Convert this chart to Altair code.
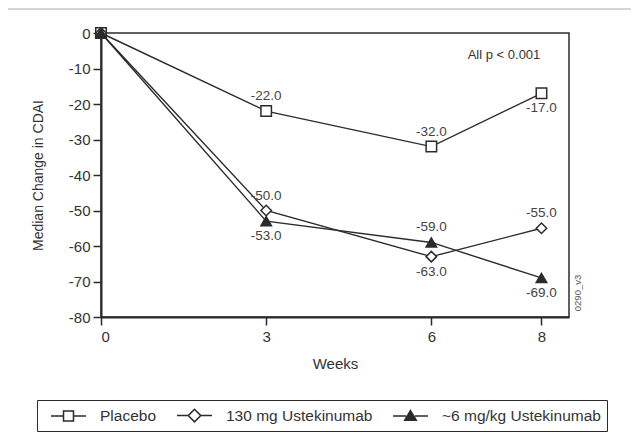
import altair as alt
import pandas as pd

weeks = [0, 3, 6, 8]
groups = ["Placebo", "130 mg Ustekinumab", "~6 mg/kg Ustekinumab"]
placebo = [0.0, -22.0, -32.0, -17.0]
uste_130 = [0.0, -50.0, -63.0, -55.0]
uste_6 = [0.0, -53.0, -59.0, -69.0]
label_side_placebo = ["none", "above", "above", "below"]
label_side_130 = ["none", "above", "below", "above"]
label_side_6 = ["none", "below", "above", "below"]

rows = []
for g, vals, sides in zip(groups, [placebo, uste_130, uste_6],
                          [label_side_placebo, label_side_130, label_side_6]):
    for w, v, s in zip(weeks, vals, sides):
        rows.append({"week": w, "value": v, "group": g, "side": s, "label": f"{v:.1f}"})
df = pd.DataFrame(rows)

FONT = "Liberation Sans"
INK = "#2b2b2b"
HYPHEN = "replace(datum.label, '\u2212', '-')"

x = alt.X("week:Q", title="Weeks",
          scale=alt.Scale(domain=[0, 8.5], nice=False),
          axis=alt.Axis(values=[0, 3, 6, 8], grid=False, labelFontSize=15,
                        titleFontSize=15, titlePadding=12, labelPadding=4,
                        tickSize=8, labelColor="#333", titleColor="#333",
                        titleFontWeight="normal"))
y = alt.Y("value:Q", title="Median Change in CDAI",
          scale=alt.Scale(domain=[-80, 0], nice=False),
          axis=alt.Axis(values=list(range(-80, 1, 10)), grid=False, labelFontSize=15,
                        titleFontSize=14, titlePadding=23, labelPadding=3,
                        tickSize=8, labelColor="#333", titleColor="#333",
                        titleFontWeight="normal", labelExpr=HYPHEN))

base = alt.Chart(df)

lines = base.mark_line(color=INK, strokeWidth=1.4).encode(x=x, y=y, detail="group:N")

points = base.mark_point(filled=True, stroke=INK, strokeWidth=1.5, size=110, opacity=1).encode(
    x=x, y=y,
    shape=alt.Shape("group:N", scale=alt.Scale(domain=groups, range=["square", "diamond", "triangle-up"]), legend=None),
    fill=alt.Fill("group:N", scale=alt.Scale(domain=groups, range=["white", "white", INK]), legend=None),
)

above = base.transform_filter("datum.side == 'above'").mark_text(
    dy=-15, fontSize=13.5, font=FONT, color="#444").encode(x=x, y=y, text="label:N")
below = base.transform_filter("datum.side == 'below'").mark_text(
    dy=15, fontSize=13.5, font=FONT, color="#444").encode(x=x, y=y, text="label:N")

# legend glyphs: "line - marker - line" drawn as stroke-only paths
tri_top, tri_bot, tri_half = -0.62, 0.5, 0.66
hatch = ""
yy = tri_top + 0.1
while yy <= tri_bot + 1e-9:
    hw = tri_half * (yy - tri_top) / (tri_bot - tri_top)
    hatch += f"M{-hw:.3f},{yy:.3f}H{hw:.3f}"
    yy += 0.12
legend_paths = [
    "M-2,0H-0.57M0.57,0H2M-0.57,-0.57H0.57V0.57H-0.57Z",
    "M-2,0H-0.72M0.72,0H2M-0.72,0L0,-0.72L0.72,0L0,0.72Z",
    f"M-2,0H-0.5M0.5,0H2M0,{tri_top}L{tri_half},{tri_bot}L{-tri_half},{tri_bot}Z" + hatch,
]
legend = alt.Legend(title=None, orient="none", legendX=-64, legendY=367,
                    direction="horizontal", strokeColor=INK, padding=6,
                    symbolSize=306, symbolStrokeColor=INK, symbolStrokeWidth=1.5,
                    symbolOpacity=1, symbolFillColor="white",
                    symbolOffset=16, labelOffset=22, columnPadding=12,
                    labelFontSize=15.5, labelFont=FONT, labelColor="#333",
                    labelLimit=400)
legend_layer = base.transform_filter("datum.week < 0").mark_point(
    filled=False, color=INK, stroke=INK, strokeWidth=1.5, opacity=1).encode(
    x=x, y=y,
    shape=alt.Shape("group:N", scale=alt.Scale(domain=groups, range=legend_paths), legend=legend),
)

note_df = pd.DataFrame({"t": ["All p < 0.001"]})
note = alt.Chart(note_df).mark_text(fontSize=13, font=FONT, color="#333").encode(
    x=alt.value(403), y=alt.value(22), text="t:N")
code_df = pd.DataFrame({"t": ["0290_v3"]})
code = alt.Chart(code_df).mark_text(fontSize=9.5, font=FONT, color="#555", angle=270).encode(
    x=alt.value(477), y=alt.value(260), text="t:N")
rule_df = pd.DataFrame({"a": [0]})
top_rule = alt.Chart(rule_df).mark_rule(color="#aaaaaa", strokeWidth=1).encode(
    x=alt.value(-93), x2=alt.value(530), y=alt.value(-24))

chart = alt.layer(lines, points, above, below, legend_layer, note, code, top_rule).resolve_scale(
    shape="independent", fill="independent"
).properties(
    width=468, height=284,
    autosize=alt.AutoSizeParams(type="none"),
    padding={"left": 93, "top": 25, "right": 62, "bottom": 121},
    background="white",
).configure_view(stroke=INK, strokeWidth=1.5).configure_axis(
    domainColor=INK, domainWidth=2, tickColor=INK, tickWidth=1.5,
    labelFont=FONT, titleFont=FONT,
)

chart.save("out.html", embed_options={"renderer": "svg", "actions": False})
